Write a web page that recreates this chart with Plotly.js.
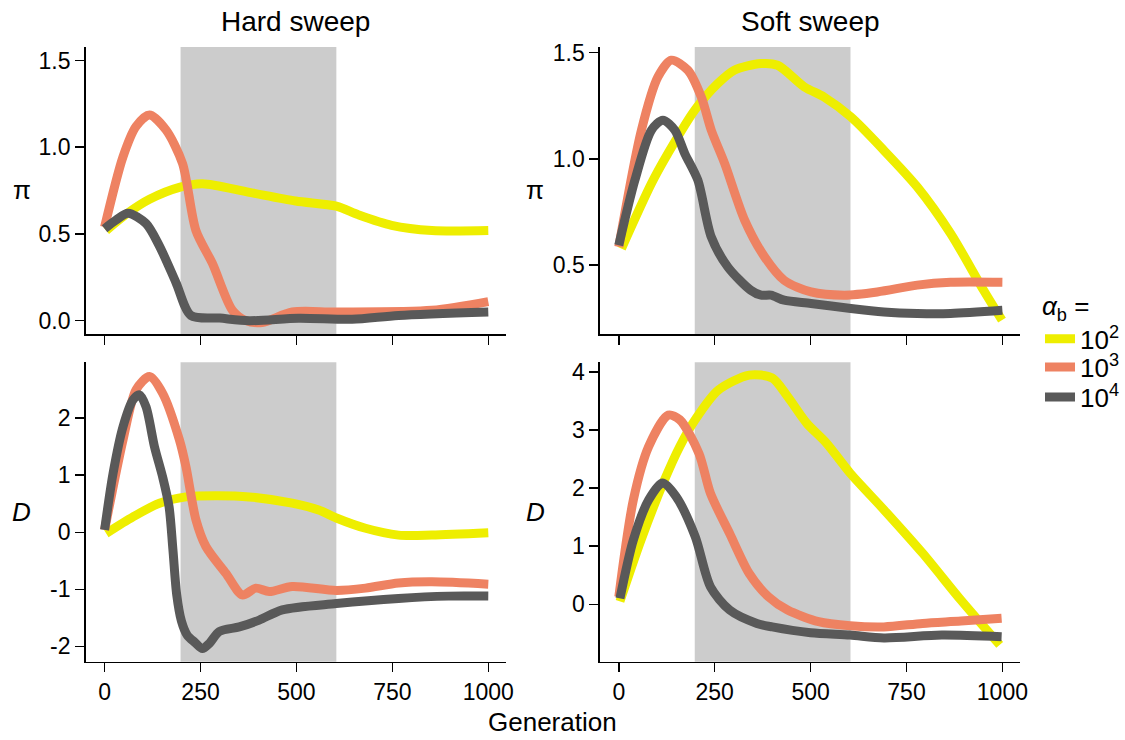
<!DOCTYPE html>
<html>
<head>
<meta charset="utf-8">
<script src="https://cdn.plot.ly/plotly-3.0.1.min.js"></script>
<style>html,body{margin:0;padding:0;background:#fff;}</style>
</head>
<body>
<div id="chart" style="width:1125px;height:740px;"></div>
<script>
// ---- Data ----
const seriesNames = ['10<sup>2</sup>', '10<sup>3</sup>', '10<sup>4</sup>'];
const seriesColors = ['#EEEE00', '#EE8262', '#595959'];
const panelTitles = ['Hard sweep', 'Soft sweep'];
const sweepStart = 198, sweepEnd = 604;
const genTicks = [0, 250, 500, 750, 1000];

// Hard sweep, pi
const hardPiX1 = [4, 60, 117, 197, 255, 377, 498, 604, 662, 748, 853, 1000];
const hardPiY1 = [0.52, 0.62, 0.70, 0.77, 0.79, 0.74, 0.69, 0.66, 0.61, 0.55, 0.52, 0.52];
const hardPiX2 = [0, 48, 82, 117, 160, 203, 238, 281, 333, 368, 411, 489, 604, 853, 1000];
const hardPiY2 = [0.54, 0.945, 1.12, 1.186, 1.10, 0.907, 0.52, 0.33, 0.06, 0.0, -0.01, 0.05, 0.05, 0.06, 0.11];
const hardPiX3 = [0, 30, 61, 108, 143, 186, 225, 300, 377, 506, 645, 766, 1000];
const hardPiY3 = [0.53, 0.58, 0.62, 0.56, 0.43, 0.22, 0.03, 0.015, 0.0, 0.014, 0.008, 0.03, 0.05];

// Soft sweep, pi
const softPiX1 = [7, 85, 128, 198, 258, 301, 371, 414, 484, 535, 605, 691, 778, 865, 951, 999];
const softPiY1 = [0.578, 0.884, 1.025, 1.229, 1.354, 1.417, 1.448, 1.44, 1.338, 1.291, 1.197, 1.04, 0.868, 0.649, 0.382, 0.241];
const softPiX2 = [0, 59, 102, 137, 180, 215, 241, 276, 328, 380, 431, 501, 588, 674, 778, 865, 1000];
const softPiY2 = [0.586, 1.135, 1.385, 1.464, 1.417, 1.291, 1.135, 0.978, 0.712, 0.539, 0.429, 0.374, 0.359, 0.374, 0.406, 0.419, 0.419];
const softPiX3 = [0, 42, 85, 115, 146, 172, 206, 241, 284, 344, 371, 397, 431, 501, 605, 691, 778, 865, 1000];
const softPiY3 = [0.594, 0.9, 1.135, 1.182, 1.135, 1.025, 0.9, 0.633, 0.492, 0.382, 0.359, 0.359, 0.335, 0.32, 0.296, 0.28, 0.273, 0.273, 0.288];

// Hard sweep, Tajima's D
const hardDX1 = [4, 74, 143, 212, 290, 377, 489, 558, 604, 680, 766, 853, 1000];
const hardDY1 = [-0.02, 0.27, 0.51, 0.62, 0.64, 0.62, 0.51, 0.39, 0.25, 0.07, -0.05, -0.05, -0.01];
const hardDX2 = [0, 48, 82, 117, 151, 195, 212, 238, 264, 316, 359, 394, 429, 489, 604, 680, 766, 853, 1000];
const hardDY2 = [0.04, 1.62, 2.5, 2.73, 2.44, 1.62, 1.15, 0.22, -0.25, -0.72, -1.1, -0.98, -1.04, -0.95, -1.02, -0.98, -0.89, -0.87, -0.91];
const hardDX3 = [0, 22, 48, 74, 91, 108, 130, 152, 168, 178, 188, 200, 215, 235, 255, 273, 299, 351, 403, 463, 604, 766, 896, 1000];
const hardDY3 = [0.04, 1.03, 1.85, 2.32, 2.41, 2.2, 1.5, 0.95, 0.45, -0.3, -1.1, -1.55, -1.8, -1.93, -2.04, -1.95, -1.74, -1.66, -1.54, -1.36, -1.25, -1.16, -1.12, -1.12];

// Soft sweep, Tajima's D
const softDX1 = [3, 58, 119, 159, 199, 259, 340, 400, 440, 490, 541, 603, 691, 792, 892, 993];
const softDY1 = [0.05, 1.11, 2.14, 2.72, 3.18, 3.69, 3.95, 3.9, 3.58, 3.12, 2.78, 2.26, 1.63, 0.88, 0.07, -0.70];
const softDX2 = [0, 38, 78, 129, 159, 209, 239, 289, 340, 390, 440, 521, 603, 691, 792, 892, 998];
const softDY2 = [0.13, 1.8, 2.72, 3.26, 3.18, 2.6, 1.91, 1.22, 0.53, 0.13, -0.1, -0.3, -0.37, -0.39, -0.33, -0.29, -0.24];
const softDX3 = [3, 38, 78, 114, 149, 199, 239, 289, 360, 400, 500, 603, 691, 842, 998];
const softDY3 = [0.1, 1.11, 1.8, 2.09, 1.86, 1.17, 0.3, -0.1, -0.33, -0.39, -0.49, -0.53, -0.58, -0.53, -0.56];

// Tick labels
const piTicksHard = [0, 0.5, 1, 1.5];
const piTickTextHard = ['0.0', '0.5', '1.0', '1.5'];
const piTicksSoft = [0.5, 1, 1.5];
const piTickTextSoft = ['0.5', '1.0', '1.5'];
const dTicksHard = [-2, -1, 0, 1, 2];
const dTickTextHard = ['-2', '-1', '0', '1', '2'];
const dTicksSoft = [0, 1, 2, 3, 4];
const dTickTextSoft = ['0', '1', '2', '3', '4'];

// ---- Build ----
const FONT = 'Liberation Sans, Arial, Helvetica, sans-serif';
const legendIds = ['legend', 'legend2', 'legend3'];
const panels = [
  {xa: 'x',  ya: 'y',  xs: [hardPiX1, hardPiX2, hardPiX3], ys: [hardPiY1, hardPiY2, hardPiY3], legend: true},
  {xa: 'x2', ya: 'y2', xs: [softPiX1, softPiX2, softPiX3], ys: [softPiY1, softPiY2, softPiY3]},
  {xa: 'x3', ya: 'y3', xs: [hardDX1, hardDX2, hardDX3],    ys: [hardDY1, hardDY2, hardDY3]},
  {xa: 'x4', ya: 'y4', xs: [softDX1, softDX2, softDX3],    ys: [softDY1, softDY2, softDY3]}
];
const traces = [];
panels.forEach(p => {
  for (let i = 0; i < 3; i++) {
    traces.push({
      type: 'scatter', mode: 'lines',
      x: p.xs[i], y: p.ys[i], xaxis: p.xa, yaxis: p.ya,
      name: seriesNames[i], legendgroup: 'g' + i, showlegend: !!p.legend,
      legend: legendIds[i],
      line: {color: seriesColors[i], width: 9, shape: 'spline', smoothing: 0.8},
      hoverinfo: 'skip'
    });
  }
});

const xr = [-49.4, 1046.8];
const colL = [0.0764, 0.4516], colR = [0.5351, 0.9102];
const rowT = [0.5486, 0.9365], rowB = [0.1058, 0.5104];
const TICKFONT = {family: FONT, size: 23, color: '#000'};
function xaxis(dom, anchor, labels) {
  return {domain: dom, anchor: anchor, range: xr, tickvals: genTicks, ticktext: genTicks.map(String),
    showticklabels: labels, ticks: 'outside', ticklen: 9, tickwidth: 1.5, tickcolor: '#000',
    showline: true, linecolor: '#000', linewidth: 1.5, showgrid: false, zeroline: false,
    tickfont: TICKFONT, fixedrange: true};
}
function yaxis(dom, anchor, range, tv, tt) {
  return {domain: dom, anchor: anchor, range: range, tickvals: tv, ticktext: tt,
    ticks: 'outside', ticklen: 9, tickwidth: 1.5, tickcolor: '#000',
    showline: true, linecolor: '#000', linewidth: 1.5, showgrid: false, zeroline: false,
    tickfont: TICKFONT, fixedrange: true};
}

const shapes = ['x', 'x2', 'x3', 'x4'].map((xa, k) => ({
  type: 'rect', layer: 'below', xref: xa, yref: ['y', 'y2', 'y3', 'y4'][k] + ' domain',
  x0: sweepStart, x1: sweepEnd, y0: 0, y1: 1, fillcolor: '#CCCCCC', line: {width: 0}
}));

const ann = (text, x, y, size) => ({text: text, x: x, y: y, xref: 'paper', yref: 'paper',
  showarrow: false, xanchor: 'center', yanchor: 'middle', font: {family: FONT, size: size || 26, color: '#000'}});

const annotations = [
  ann(panelTitles[0], 0.264, 0.9703, 28),
  ann(panelTitles[1], 0.7227, 0.9703, 28),
  ann('π', 0.0196, 0.7426),
  ann('π', 0.4773, 0.7426),
  ann('<i>D</i>', 0.0196, 0.3081),
  ann('<i>D</i>', 0.4773, 0.3081),
  ann('Generation', 0.4933, 0.0243)
];

const LEGFONT = {family: FONT, size: 26, color: '#000'};
const legBase = {xanchor: 'left', bgcolor: 'rgba(0,0,0,0)', borderwidth: 0, font: LEGFONT, itemwidth: 30};

const layout = {
  width: 1125, height: 740, autosize: false,
  margin: {l: 0, r: 0, t: 0, b: 0},
  paper_bgcolor: '#fff', plot_bgcolor: '#fff',
  font: {family: FONT, size: 21, color: '#000'},
  xaxis: xaxis(colL, 'y', false),
  yaxis: yaxis(rowT, 'x', [-0.077, 1.578], piTicksHard, piTickTextHard),
  xaxis2: xaxis(colR, 'y2', false),
  yaxis2: yaxis(rowT, 'x2', [0.176, 1.526], piTicksSoft, piTickTextSoft),
  xaxis3: xaxis(colL, 'y3', true),
  yaxis3: yaxis(rowB, 'x3', [-2.27, 2.98], dTicksHard, dTickTextHard),
  xaxis4: xaxis(colR, 'y4', true),
  yaxis4: yaxis(rowB, 'x4', [-0.99, 4.17], dTicksSoft, dTickTextSoft),
  shapes: shapes,
  annotations: annotations,
  showlegend: true,
  legend: Object.assign({}, legBase, {x: 0.928, y: 1 - 322 / 740, yanchor: 'middle',
    title: {text: '<i>α</i><sub>b</sub> =', side: 'top', font: LEGFONT}}),
  legend2: Object.assign({}, legBase, {x: 0.928, y: 1 - 367 / 740, yanchor: 'middle'}),
  legend3: Object.assign({}, legBase, {x: 0.928, y: 1 - 397 / 740, yanchor: 'middle'})
};

Plotly.newPlot('chart', traces, layout, {displayModeBar: false, staticPlot: true});
</script>
</body>
</html>
